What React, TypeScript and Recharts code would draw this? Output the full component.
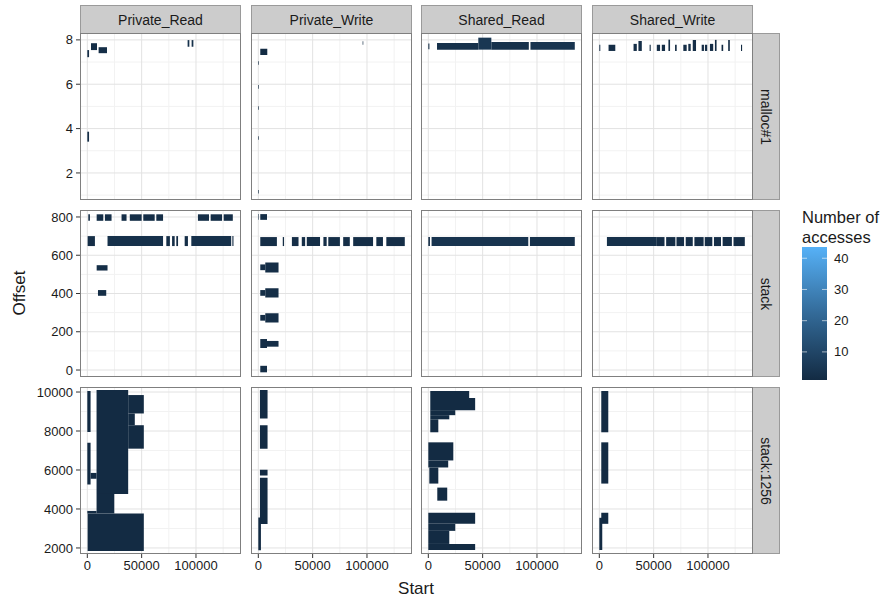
import React from 'react';
import { ComposedChart, XAxis, YAxis, CartesianGrid, ReferenceArea } from 'recharts';

// facets
const facetCols = ['Private_Read', 'Private_Write', 'Shared_Read', 'Shared_Write'];
const facetRows = ['malloc#1', 'stack', 'stack:1256'];

// x axis (Start)
const startTicks = [0, 50000, 100000];
const startMinor = [25000, 75000, 125000];
const startDomain = [-6735, 141435];

// y axes (Offset), one per row
const offsetTicks = [
  [2, 4, 6, 8],
  [0, 200, 400, 600, 800],
  [2000, 4000, 6000, 8000, 10000],
];
const offsetMinor = [
  [1, 3, 5, 7],
  [100, 300, 500, 700],
  [3000, 5000, 7000, 9000],
];
const offsetDomains = [
  [0.78, 8.31],
  [-36.5, 836.5],
  [1690, 10258],
];

// legend
const countBreaks = [10, 20, 30, 40];
const countRange = [1, 43.6];

// rects: [startFrom, startTo, offsetFrom, offsetTo, accesses]
type Rect = [number, number, number, number, number];

const mallocPrivateRead: Rect[] = [
  [0, 1600, 7.22, 7.54, 2],
  [3400, 8900, 7.54, 7.85, 2],
  [10400, 18100, 7.4, 7.67, 2],
  [0, 1600, 3.41, 3.86, 2],
  [92300, 93900, 7.69, 7.99, 3],
  [96000, 97600, 7.69, 7.99, 3],
];
const mallocPrivateWrite: Rect[] = [
  [1800, 8250, 7.32, 7.6, 1],
  [0, 600, 6.88, 7.04, 1],
  [0, 600, 5.8, 5.96, 1],
  [0, 600, 4.85, 5.01, 1],
  [0, 600, 3.5, 3.66, 1],
  [0, 600, 1.07, 1.23, 1],
  [96000, 96600, 7.78, 7.94, 1],
];
const mallocSharedRead: Rect[] = [
  [0, 1000, 7.58, 7.84, 2],
  [8000, 46000, 7.56, 7.86, 3],
  [46000, 58000, 7.56, 8.1, 5],
  [58000, 92500, 7.56, 7.9, 3],
  [94000, 134800, 7.56, 7.9, 4],
];
const mallocSharedWrite: Rect[] = [
  [0, 900, 7.5, 7.78, 2],
  [8500, 14700, 7.5, 7.78, 2],
  [31500, 34500, 7.5, 7.82, 2],
  [36000, 39100, 7.5, 7.95, 2],
  [46300, 47300, 7.5, 7.78, 1],
  [52900, 55900, 7.5, 7.78, 2],
  [57500, 60500, 7.5, 7.78, 2],
  [63600, 65100, 7.5, 8.01, 2],
  [69700, 71200, 7.5, 7.78, 1],
  [77300, 80400, 7.5, 7.78, 2],
  [81900, 84100, 7.5, 7.82, 2],
  [86000, 89000, 7.5, 8.0, 2],
  [94200, 96300, 7.5, 7.78, 2],
  [97200, 99300, 7.5, 7.78, 2],
  [101800, 104800, 7.5, 7.82, 2],
  [106400, 107900, 7.5, 8.0, 1],
  [112500, 114000, 7.5, 7.78, 1],
  [118600, 120100, 7.5, 8.0, 1],
  [130400, 131400, 7.5, 7.78, 1],
];

const stackPrivateRead: Rect[] = [
  [900, 2400, 780, 814, 2],
  [8600, 14700, 780, 814, 2],
  [16200, 22300, 780, 814, 2],
  [31500, 36100, 780, 814, 2],
  [39100, 50000, 780, 814, 2],
  [51500, 62000, 780, 814, 2],
  [63500, 69700, 780, 814, 2],
  [101800, 112000, 780, 814, 2],
  [113500, 124000, 780, 814, 2],
  [125500, 133900, 780, 814, 2],
  [300, 7000, 648, 700, 2],
  [18600, 69700, 648, 700, 3],
  [72700, 76000, 648, 700, 2],
  [78000, 80400, 648, 700, 2],
  [81900, 83500, 648, 700, 1],
  [89600, 92600, 648, 700, 2],
  [95700, 132400, 648, 700, 3],
  [133500, 134500, 648, 700, 1],
  [8600, 18600, 520, 548, 2],
  [9800, 17400, 388, 418, 2],
];
const stackPrivateWrite: Rect[] = [
  [0, 500, 785, 815, 1],
  [1800, 8000, 785, 815, 2],
  [1800, 17100, 648, 695, 2],
  [22500, 23700, 648, 695, 1],
  [30900, 37000, 648, 695, 2],
  [40000, 43100, 648, 695, 2],
  [44600, 56800, 648, 695, 2],
  [59900, 62900, 648, 695, 2],
  [64400, 75100, 648, 695, 2],
  [78100, 84200, 648, 695, 2],
  [87300, 105600, 648, 695, 2],
  [108600, 114700, 648, 695, 2],
  [117800, 134800, 648, 695, 2],
  [1800, 6400, 522, 552, 2],
  [6400, 18600, 510, 562, 2],
  [1800, 6400, 388, 418, 2],
  [6400, 18600, 379, 428, 2],
  [1800, 6400, 258, 288, 2],
  [6400, 18600, 249, 297, 2],
  [1800, 8000, 115, 162, 2],
  [8000, 18600, 122, 152, 2],
  [1800, 8000, -12, 22, 2],
];
const stackSharedRead: Rect[] = [
  [0, 1500, 648, 695, 2],
  [3000, 92000, 648, 695, 4],
  [93500, 134800, 648, 695, 3],
];
const stackSharedWrite: Rect[] = [
  [7000, 52900, 648, 695, 3],
  [52900, 60000, 648, 695, 2],
  [61500, 70000, 648, 695, 2],
  [71000, 78000, 648, 695, 2],
  [79500, 86000, 648, 695, 2],
  [87500, 96000, 648, 695, 2],
  [97000, 104000, 648, 695, 2],
  [105500, 112000, 648, 695, 2],
  [113500, 122000, 648, 695, 2],
  [123500, 133900, 648, 695, 2],
];

const s1256PrivateRead: Rect[] = [
  [0, 3000, 7950, 10050, 1],
  [0, 3000, 5250, 7400, 1],
  [3000, 8500, 5550, 5850, 1],
  [8500, 37600, 4771, 10103, 1],
  [37600, 52000, 8900, 9845, 1],
  [37600, 43700, 8297, 8900, 1],
  [37600, 52000, 7094, 8297, 1],
  [8500, 24800, 3770, 4771, 1],
  [0, 8500, 3770, 3900, 1],
  [300, 52000, 1845, 3770, 1],
];
const s1256PrivateWrite: Rect[] = [
  [1500, 8500, 8640, 10103, 1],
  [1500, 8500, 7094, 8297, 1],
  [1500, 8500, 5716, 6010, 1],
  [1500, 8500, 3224, 5596, 1],
  [0, 2400, 1880, 3564, 1],
];
const s1256SharedRead: Rect[] = [
  [1800, 37600, 9690, 10052, 1],
  [1800, 43100, 9071, 9690, 1],
  [1800, 24800, 8813, 9071, 1],
  [1800, 19300, 8600, 8813, 1],
  [1800, 9200, 7935, 8600, 1],
  [0, 23000, 6490, 7419, 1],
  [0, 18300, 6129, 6490, 1],
  [900, 9200, 5303, 6129, 1],
  [8250, 17400, 4426, 5097, 1],
  [0, 43100, 3238, 3806, 1],
  [0, 24800, 2877, 3238, 1],
  [0, 19300, 2206, 2877, 1],
  [0, 43100, 1896, 2206, 1],
];
const s1256SharedWrite: Rect[] = [
  [1800, 8250, 7935, 10052, 1],
  [1800, 8250, 5303, 7419, 1],
  [1800, 8250, 3238, 3806, 1],
  [0, 2700, 1896, 3548, 1],
];

const panelData: Rect[][][] = [
  [mallocPrivateRead, mallocPrivateWrite, mallocSharedRead, mallocSharedWrite],
  [stackPrivateRead, stackPrivateWrite, stackSharedRead, stackSharedWrite],
  [s1256PrivateRead, s1256PrivateWrite, s1256SharedRead, s1256SharedWrite],
];

const LOW = [19, 43, 67];
const MID = [51, 106, 152];
const HIGH = [86, 177, 247];

function fillFor(n: number) {
  const t = Math.max(0, Math.min(1, (n - countRange[0]) / (countRange[1] - countRange[0])));
  const [a, b, u] = t < 0.5 ? [LOW, MID, t * 2] : [MID, HIGH, (t - 0.5) * 2];
  const c = a.map((v, i) => Math.round(v + (b[i] - v) * u));
  return `rgb(${c[0]},${c[1]},${c[2]})`;
}

const colLeft = [80, 251, 421, 592];
const rowTop = [33, 210, 387];
const PW = 161;
const PH = 167;
const PAD = 10; // room above the plot so the top tick label is not clipped
const FONT = '"Liberation Sans", Arial, Helvetica, sans-serif';

const Panel = ({ r, c }: { r: number; c: number }) => {
  const isLeft = c === 0;
  const isBottom = r === 2;
  const axisW = isLeft ? 80 : 0;
  const axisH = isBottom ? 34 : 0;
  return (
    <div style={{ position: 'absolute', left: colLeft[c] - axisW, top: rowTop[r] - PAD }}>
      <ComposedChart width={PW + axisW} height={PH + axisH + PAD} margin={{ top: PAD, right: 0, bottom: 0, left: 0 }}>
        <XAxis
          type="number"
          dataKey="x"
          domain={startDomain}
          ticks={startTicks}
          interval={0}
          allowDataOverflow
          hide={!isBottom}
          height={axisH}
          axisLine={false}
          tickLine={{ stroke: '#333' }}
          tickSize={4}
          tickMargin={3}
          tick={{ fill: '#1a1a1a', fontSize: 13 }}
        />
        <YAxis
          type="number"
          dataKey="y"
          domain={offsetDomains[r]}
          ticks={offsetTicks[r]}
          interval={0}
          allowDataOverflow
          hide={!isLeft}
          width={axisW}
          axisLine={false}
          tickLine={{ stroke: '#333' }}
          tickSize={4}
          tickMargin={3}
          tick={{ fill: '#1a1a1a', fontSize: 13 }}
        />
        <CartesianGrid verticalValues={startMinor} horizontalValues={offsetMinor[r]} stroke="#f2f2f2" />
        <CartesianGrid verticalValues={startTicks} horizontalValues={offsetTicks[r]} stroke="#e2e2e2" />
        {panelData[r][c].map((d, i) => (
          <ReferenceArea
            key={i}
            x1={d[0]}
            x2={d[1]}
            y1={d[2]}
            y2={d[3]}
            fill={fillFor(d[4])}
            fillOpacity={1}
            stroke="none"
            ifOverflow="visible"
          />
        ))}
      </ComposedChart>
      <div
        style={{
          position: 'absolute',
          left: axisW,
          top: PAD,
          width: PW,
          height: PH,
          boxSizing: 'border-box',
          border: '1px solid #7f7f7f',
          pointerEvents: 'none',
        }}
      />
    </div>
  );
};

const Legend = () => {
  const top = 247;
  const bottom = 380;
  const yFor = (n: number) => bottom - ((n - countRange[0]) / (countRange[1] - countRange[0])) * (bottom - top);
  return (
    <svg style={{ position: 'absolute', left: 0, top: 0 }} width={892} height={601}>
      <defs>
        <linearGradient id="countGrad" x1="0" y1="1" x2="0" y2="0">
          <stop offset="0%" stopColor={fillFor(countRange[0])} />
          <stop offset="50%" stopColor={fillFor((countRange[0] + countRange[1]) / 2)} />
          <stop offset="100%" stopColor={fillFor(countRange[1])} />
        </linearGradient>
      </defs>
      <text x={802} y={223} fontSize={16.5} fill="#1a1a1a">Number of</text>
      <text x={802} y={243} fontSize={16.5} fill="#1a1a1a">accesses</text>
      <rect x={802} y={top} width={25} height={bottom - top} fill="url(#countGrad)" />
      {countBreaks.map((b) => (
        <g key={b}>
          <line x1={802} x2={807} y1={yFor(b)} y2={yFor(b)} stroke="#fff" strokeOpacity={0.6} />
          <line x1={822} x2={827} y1={yFor(b)} y2={yFor(b)} stroke="#fff" strokeOpacity={0.6} />
          <text x={834} y={yFor(b) + 4.5} fontSize={13} fill="#1a1a1a">{b}</text>
        </g>
      ))}
    </svg>
  );
};

export default function App() {
  return (
    <div style={{ position: 'absolute', left: 0, top: 0, width: 892, height: 601, background: '#fff', fontFamily: FONT }}>
      {facetCols.map((name, c) => (
        <div
          key={name}
          style={{
            position: 'absolute',
            left: colLeft[c],
            top: 5,
            width: PW,
            height: 28,
            boxSizing: 'border-box',
            background: '#cccccc',
            border: '1px solid #9a9a9a',
            borderBottom: 'none',
            display: 'flex',
            alignItems: 'center',
            justifyContent: 'center',
            fontSize: 14,
            color: '#1a1a1a',
          }}
        >
          {name}
        </div>
      ))}
      {facetRows.map((name, r) => (
        <div
          key={name}
          style={{
            position: 'absolute',
            left: 753,
            top: rowTop[r],
            width: 27,
            height: PH,
            boxSizing: 'border-box',
            background: '#cccccc',
            border: '1px solid #9a9a9a',
            borderLeft: 'none',
            display: 'flex',
            alignItems: 'center',
            justifyContent: 'center',
            fontSize: 14,
            color: '#1a1a1a',
          }}
        >
          <div style={{ transform: 'rotate(90deg)', whiteSpace: 'nowrap' }}>{name}</div>
        </div>
      ))}
      {facetRows.map((_, r) => facetCols.map((__, c) => <Panel key={`${r}-${c}`} r={r} c={c} />))}
      <div
        style={{
          position: 'absolute',
          left: 20,
          top: 293,
          transform: 'translate(-50%, -50%) rotate(-90deg)',
          fontSize: 17,
          color: '#1a1a1a',
          whiteSpace: 'nowrap',
        }}
      >
        Offset
      </div>
      <div
        style={{
          position: 'absolute',
          left: 416,
          top: 589,
          transform: 'translate(-50%, -50%)',
          fontSize: 17,
          color: '#1a1a1a',
          whiteSpace: 'nowrap',
        }}
      >
        Start
      </div>
      <Legend />
    </div>
  );
}
